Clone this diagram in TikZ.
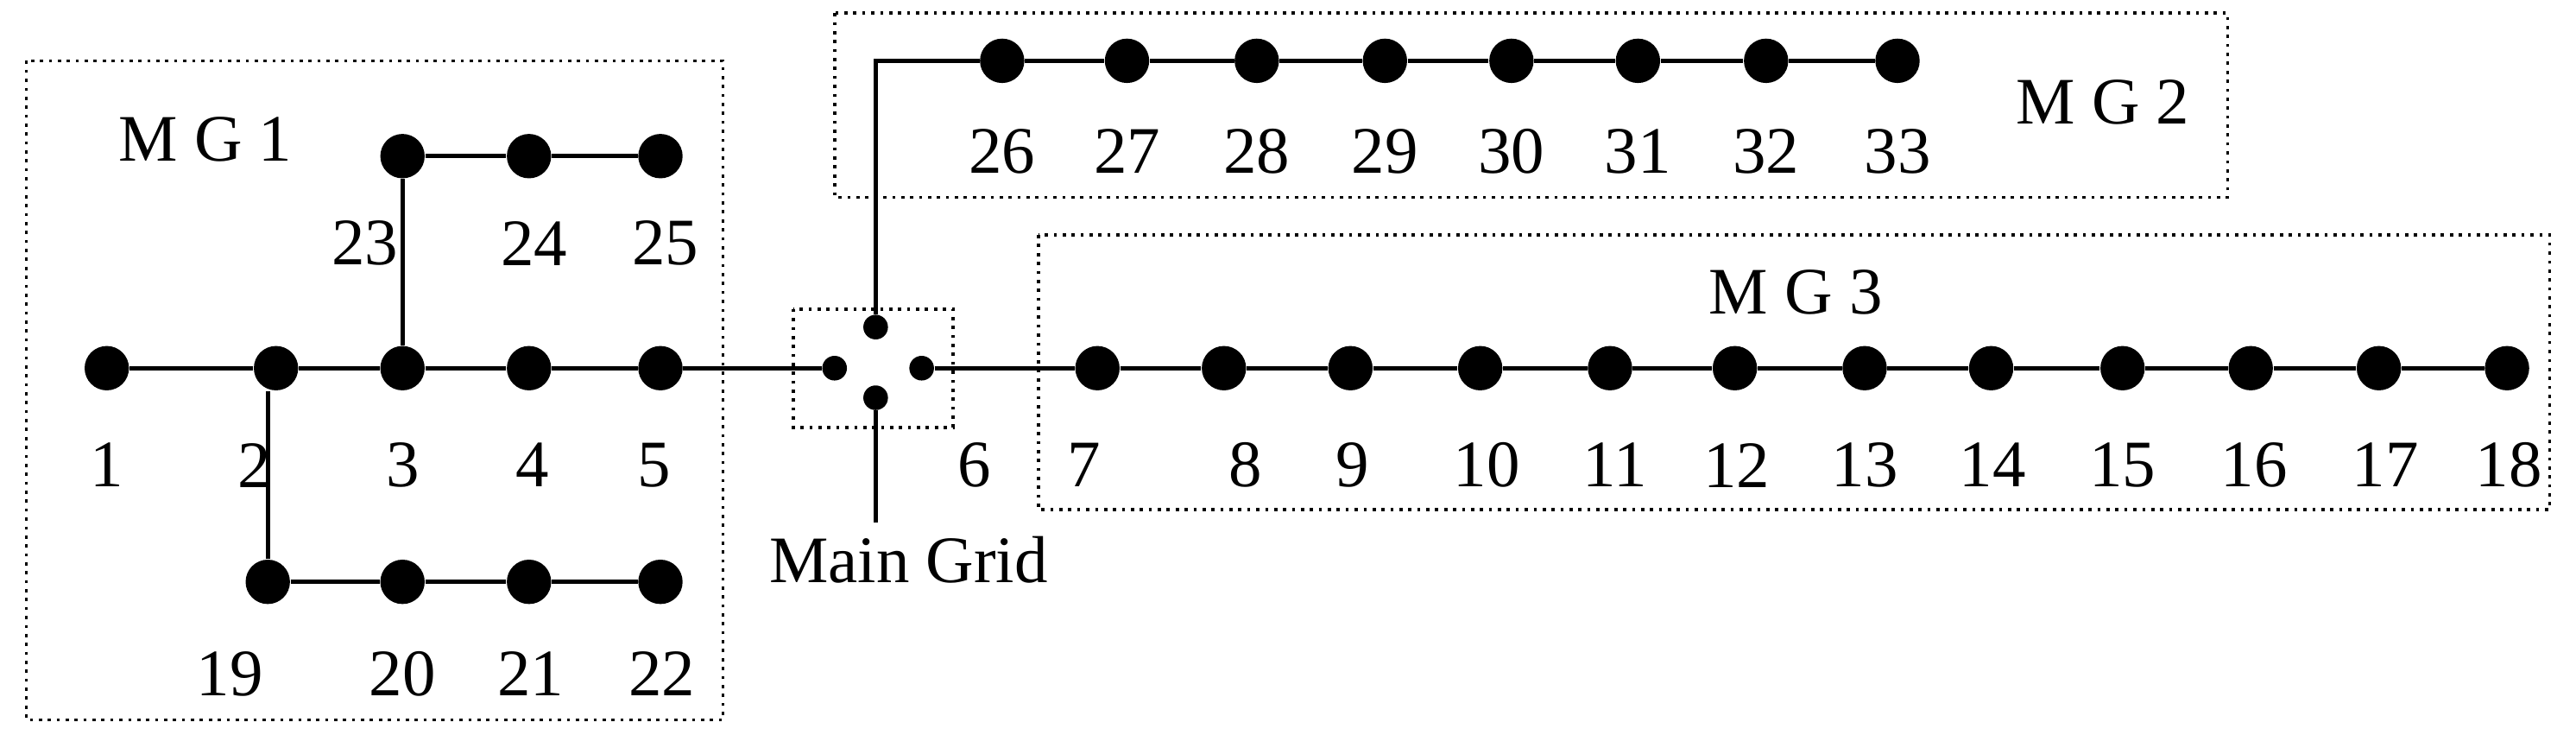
\documentclass[tikz,border=0pt]{standalone}
\usepackage{fontspec}
\setmainfont{Liberation Serif}
\usetikzlibrary{calc}
\tikzset{
  bus/.style={circle,fill,inner sep=0pt,minimum size=0.54cm},
  tap/.style={circle,fill,inner sep=0pt,minimum size=0.3cm},
  lbl/.style={font=\fontsize{23}{27}\selectfont},
  line/.style={line width=1.4pt},
  area/.style={dotted,line width=1.1pt}
}
\begin{document}
\begin{tikzpicture}[x=0.2mm,y=-0.2mm]
        \useasboundingbox (0,0) rectangle (1568,447);
        % areas
        \draw[area] (16,37) rectangle (440,438);
        \draw[area] (508,8) rectangle (1356,120);
        \draw[area] (632,143) rectangle (1552,310);
        \draw[area] (483,188) rectangle (580,260);
        \node[lbl] (mg1) at (125,85) {M G 1};
        \node[lbl] (mg2) at (1280,62) {M G 2};
        \node[lbl] (mg3) at (1093,178) {M G 3};
        % buses of MG1
        \foreach \n/\x/\lx in {1/65/65,2/168/155,3/245/245,4/322/324,5/402/398}
            \node[bus] (b\n) at (\x,224) {} node[lbl] at (\lx,283) {\n};
        \foreach \n/\x/\lx in {23/245/222,24/322/325,25/402/405}
            \node[bus] (b\n) at (\x,95) {} node[lbl] at (\lx,148) {\n};
        \foreach \n/\x/\lx in {19/163/140,20/245/245,21/322/323,22/402/403}
            \node[bus] (b\n) at (\x,354) {} node[lbl] at (\lx,410) {\n};
        % buses of MG2 and MG3
        \foreach \n/\x in {26/610,27/686,28/765,29/843,30/920,31/997,32/1075,33/1155}
            \node[bus] (b\n) at (\x,37) {} node[lbl] at (\x,92) {\n};
        \foreach \n/\x/\lx in {7/668/660,8/745/758,9/822/823,10/901/905,11/980/983,12/1056/1057,
                               13/1135/1135,14/1212/1213,15/1292/1292,16/1370/1372,17/1448/1452,18/1526/1527}
            \node[bus] (b\n) at (\x,224) {} node[lbl] at (\lx,283) {\n};
        % main grid
        \node[tap] (tl) at (508,224) {};
        \node[tap] (tr) at (561,224) {};
        \node[tap] (tt) at (533,199) {};
        \node[tap] (tb) at (533,242) {};
        \coordinate (up) at (533,37);
        \coordinate (down) at (533,318);
        \node[lbl,anchor=north] (grid) at (553,320) {Main Grid};
        \node[lbl] (six) at (593,283) {6};
        % lines
        \draw[line] (b1) -- (b2) -- (b3) -- (b4) -- (b5) -- (tl);
        \draw[line] (tr) -- (b7);
        \foreach \a/\b in {7/8,8/9,9/10,10/11,11/12,12/13,13/14,14/15,15/16,16/17,17/18,
                           26/27,27/28,28/29,29/30,30/31,31/32,32/33,23/24,24/25,19/20,20/21,21/22}
            \draw[line] (b\a) -- (b\b);
        \draw[line] (b3) -- (b23);
        \draw[line] (b2.south -| b19) -- (b19);
        \draw[line] (tt) -- (up) -- (b26);
        \draw[line] (tb) -- (down);
\end{tikzpicture}
\end{document}
